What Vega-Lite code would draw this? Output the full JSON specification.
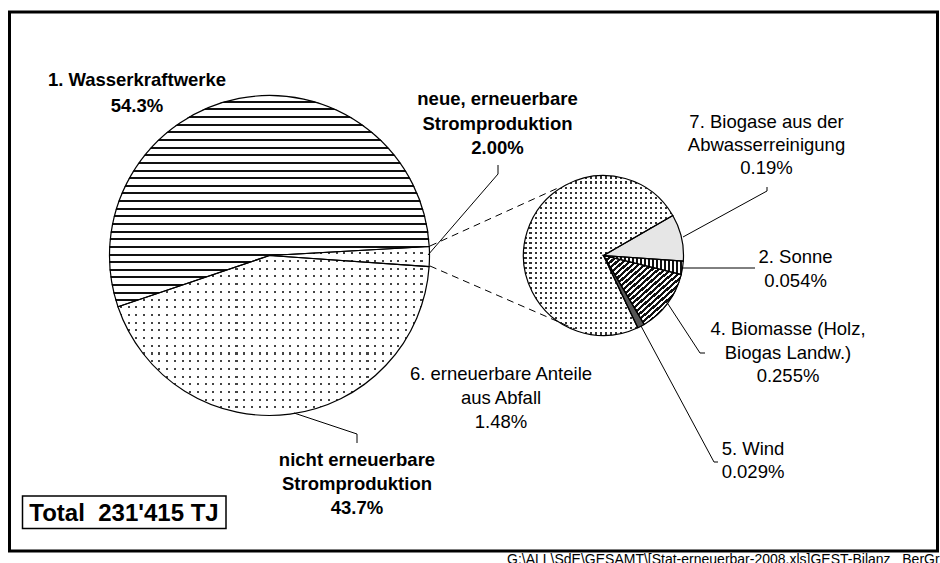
{
"$schema":"https://vega.github.io/schema/vega-lite/v6.json",
"width":940,"height":563,"autosize":{"type":"none"},"padding":0,"background":"#ffffff",
"config":{"view":{"stroke":null},"text":{"font":"Liberation Sans"}},
"datasets":{
"gross":[
{"ord":1,"name":"1. Wasserkraftwerke","value":54.3,"label":"1. Wasserkraftwerke\n54.3%"},
{"ord":2,"name":"neue, erneuerbare Stromproduktion","value":2.0,"label":"neue, erneuerbare\nStromproduktion\n2.00%"},
{"ord":3,"name":"nicht erneuerbare Stromproduktion","value":43.7,"label":"nicht erneuerbare\nStromproduktion\n43.7%"}],
"klein":[
{"ord":1,"name":"7. Biogase aus der Abwasserreinigung","value":0.19,"label":"7. Biogase aus der\nAbwasserreinigung\n0.19%"},
{"ord":2,"name":"2. Sonne","value":0.054,"label":"2. Sonne\n0.054%"},
{"ord":3,"name":"4. Biomasse (Holz, Biogas Landw.)","value":0.255,"label":"4. Biomasse (Holz,\nBiogas Landw.)\n0.255%"},
{"ord":4,"name":"5. Wind","value":0.029,"label":"5. Wind\n0.029%"},
{"ord":5,"name":"6. erneuerbare Anteile aus Abfall","value":1.48,"label":"6. erneuerbare Anteile\naus Abfall\n1.48%"}],
"gesamt":[{"label":"Total\u00a0 231'415 TJ","value":231415}],
"quelle":[{"label":"G:\\ALL\\SdE\\GESAMT\\[Stat-erneuerbar-2008.xls]GEST-Bilanz_ BerGr"}]
},
"data":{"name":"gesamt"},
"resolve":{"scale":{"theta":"independent"}},
"layer":[
{"mark":{"type":"rect","fill":"transparent","stroke":"#000","strokeWidth":3},
 "encoding":{"x":{"datum":9.5,"type":"quantitative","scale":{"domain":[0,940]},"axis":null},"x2":{"datum":937.5},"y":{"datum":12,"type":"quantitative","scale":{"domain":[563,0]},"axis":null},"y2":{"datum":551}}},

{"data":{"name":"gross"},"transform":[{"aggregate":[{"op":"sum","field":"value","as":"summe"}]}],
 "mark":{"type":"arc","outerRadius":160,"theta":0,"theta2":6.2832,"fill":"#444","stroke":null},
 "encoding":{"x":{"datum":269.5,"type":"quantitative","scale":{"domain":[0,940]},"axis":null},"y":{"datum":255.5,"type":"quantitative","scale":{"domain":[563,0]},"axis":null}}},

{"data":{"name":"gross"},"transform":[{"aggregate":[{"op":"sum","field":"value","as":"summe"}]}],
 "mark":{"type":"arc","outerRadius":160.5,"theta":0,"theta2":6.2832,"stroke":null,"fill":{"gradient":"linear","x1":0,"y1":0,"x2":0,"y2":1,"stops":[
{"offset":0,"color":"#fff"},
{"offset":0.49,"color":"#fff"},{"offset":0.49,"color":"transparent"},{"offset":0.4965,"color":"transparent"},{"offset":0.4965,"color":"#fff"},
{"offset":0.514,"color":"#fff"},{"offset":0.514,"color":"transparent"},{"offset":0.5205,"color":"transparent"},{"offset":0.5205,"color":"#fff"},
{"offset":0.538,"color":"#fff"},{"offset":0.538,"color":"transparent"},{"offset":0.5445,"color":"transparent"},{"offset":0.5445,"color":"#fff"},
{"offset":0.562,"color":"#fff"},{"offset":0.562,"color":"transparent"},{"offset":0.5685,"color":"transparent"},{"offset":0.5685,"color":"#fff"},
{"offset":0.586,"color":"#fff"},{"offset":0.586,"color":"transparent"},{"offset":0.5925,"color":"transparent"},{"offset":0.5925,"color":"#fff"},
{"offset":0.61,"color":"#fff"},{"offset":0.61,"color":"transparent"},{"offset":0.6165,"color":"transparent"},{"offset":0.6165,"color":"#fff"},
{"offset":0.634,"color":"#fff"},{"offset":0.634,"color":"transparent"},{"offset":0.6405,"color":"transparent"},{"offset":0.6405,"color":"#fff"},
{"offset":0.658,"color":"#fff"},{"offset":0.658,"color":"transparent"},{"offset":0.6645,"color":"transparent"},{"offset":0.6645,"color":"#fff"},
{"offset":0.682,"color":"#fff"},{"offset":0.682,"color":"transparent"},{"offset":0.6885,"color":"transparent"},{"offset":0.6885,"color":"#fff"},
{"offset":0.706,"color":"#fff"},{"offset":0.706,"color":"transparent"},{"offset":0.7125,"color":"transparent"},{"offset":0.7125,"color":"#fff"},
{"offset":0.73,"color":"#fff"},{"offset":0.73,"color":"transparent"},{"offset":0.7365,"color":"transparent"},{"offset":0.7365,"color":"#fff"},
{"offset":0.754,"color":"#fff"},{"offset":0.754,"color":"transparent"},{"offset":0.7605,"color":"transparent"},{"offset":0.7605,"color":"#fff"},
{"offset":0.778,"color":"#fff"},{"offset":0.778,"color":"transparent"},{"offset":0.7845,"color":"transparent"},{"offset":0.7845,"color":"#fff"},
{"offset":0.802,"color":"#fff"},{"offset":0.802,"color":"transparent"},{"offset":0.8085,"color":"transparent"},{"offset":0.8085,"color":"#fff"},
{"offset":0.826,"color":"#fff"},{"offset":0.826,"color":"transparent"},{"offset":0.8325,"color":"transparent"},{"offset":0.8325,"color":"#fff"},
{"offset":0.85,"color":"#fff"},{"offset":0.85,"color":"transparent"},{"offset":0.8565,"color":"transparent"},{"offset":0.8565,"color":"#fff"},
{"offset":0.874,"color":"#fff"},{"offset":0.874,"color":"transparent"},{"offset":0.8805,"color":"transparent"},{"offset":0.8805,"color":"#fff"},
{"offset":0.898,"color":"#fff"},{"offset":0.898,"color":"transparent"},{"offset":0.9045,"color":"transparent"},{"offset":0.9045,"color":"#fff"},
{"offset":0.922,"color":"#fff"},{"offset":0.922,"color":"transparent"},{"offset":0.9285,"color":"transparent"},{"offset":0.9285,"color":"#fff"},
{"offset":0.946,"color":"#fff"},{"offset":0.946,"color":"transparent"},{"offset":0.9525,"color":"transparent"},{"offset":0.9525,"color":"#fff"},
{"offset":0.97,"color":"#fff"},{"offset":0.97,"color":"transparent"},{"offset":0.9765,"color":"transparent"},{"offset":0.9765,"color":"#fff"},
{"offset":1,"color":"#fff"}]}},
 "encoding":{"x":{"datum":269.5,"type":"quantitative","scale":{"domain":[0,940]},"axis":null},"y":{"datum":255.5,"type":"quantitative","scale":{"domain":[563,0]},"axis":null}}},

{"data":{"name":"gross"},"transform":[{"aggregate":[{"op":"sum","field":"value","as":"summe"}]}],
 "mark":{"type":"arc","outerRadius":160.5,"theta":0,"theta2":6.2832,"stroke":null,"fill":{"gradient":"linear","x1":0,"y1":0,"x2":1,"y2":0,"stops":[
{"offset":0,"color":"#fff"},
{"offset":0.01,"color":"#fff"},{"offset":0.01,"color":"transparent"},{"offset":0.0165,"color":"transparent"},{"offset":0.0165,"color":"#fff"},
{"offset":0.034,"color":"#fff"},{"offset":0.034,"color":"transparent"},{"offset":0.0405,"color":"transparent"},{"offset":0.0405,"color":"#fff"},
{"offset":0.058,"color":"#fff"},{"offset":0.058,"color":"transparent"},{"offset":0.0645,"color":"transparent"},{"offset":0.0645,"color":"#fff"},
{"offset":0.082,"color":"#fff"},{"offset":0.082,"color":"transparent"},{"offset":0.0885,"color":"transparent"},{"offset":0.0885,"color":"#fff"},
{"offset":0.106,"color":"#fff"},{"offset":0.106,"color":"transparent"},{"offset":0.1125,"color":"transparent"},{"offset":0.1125,"color":"#fff"},
{"offset":0.13,"color":"#fff"},{"offset":0.13,"color":"transparent"},{"offset":0.1365,"color":"transparent"},{"offset":0.1365,"color":"#fff"},
{"offset":0.154,"color":"#fff"},{"offset":0.154,"color":"transparent"},{"offset":0.1605,"color":"transparent"},{"offset":0.1605,"color":"#fff"},
{"offset":0.178,"color":"#fff"},{"offset":0.178,"color":"transparent"},{"offset":0.1845,"color":"transparent"},{"offset":0.1845,"color":"#fff"},
{"offset":0.202,"color":"#fff"},{"offset":0.202,"color":"transparent"},{"offset":0.2085,"color":"transparent"},{"offset":0.2085,"color":"#fff"},
{"offset":0.226,"color":"#fff"},{"offset":0.226,"color":"transparent"},{"offset":0.2325,"color":"transparent"},{"offset":0.2325,"color":"#fff"},
{"offset":0.25,"color":"#fff"},{"offset":0.25,"color":"transparent"},{"offset":0.2565,"color":"transparent"},{"offset":0.2565,"color":"#fff"},
{"offset":0.274,"color":"#fff"},{"offset":0.274,"color":"transparent"},{"offset":0.2805,"color":"transparent"},{"offset":0.2805,"color":"#fff"},
{"offset":0.298,"color":"#fff"},{"offset":0.298,"color":"transparent"},{"offset":0.3045,"color":"transparent"},{"offset":0.3045,"color":"#fff"},
{"offset":0.322,"color":"#fff"},{"offset":0.322,"color":"transparent"},{"offset":0.3285,"color":"transparent"},{"offset":0.3285,"color":"#fff"},
{"offset":0.346,"color":"#fff"},{"offset":0.346,"color":"transparent"},{"offset":0.3525,"color":"transparent"},{"offset":0.3525,"color":"#fff"},
{"offset":0.37,"color":"#fff"},{"offset":0.37,"color":"transparent"},{"offset":0.3765,"color":"transparent"},{"offset":0.3765,"color":"#fff"},
{"offset":0.394,"color":"#fff"},{"offset":0.394,"color":"transparent"},{"offset":0.4005,"color":"transparent"},{"offset":0.4005,"color":"#fff"},
{"offset":0.418,"color":"#fff"},{"offset":0.418,"color":"transparent"},{"offset":0.4245,"color":"transparent"},{"offset":0.4245,"color":"#fff"},
{"offset":0.442,"color":"#fff"},{"offset":0.442,"color":"transparent"},{"offset":0.4485,"color":"transparent"},{"offset":0.4485,"color":"#fff"},
{"offset":0.466,"color":"#fff"},{"offset":0.466,"color":"transparent"},{"offset":0.4725,"color":"transparent"},{"offset":0.4725,"color":"#fff"},
{"offset":0.49,"color":"#fff"},{"offset":0.49,"color":"transparent"},{"offset":0.4965,"color":"transparent"},{"offset":0.4965,"color":"#fff"},
{"offset":0.514,"color":"#fff"},{"offset":0.514,"color":"transparent"},{"offset":0.5205,"color":"transparent"},{"offset":0.5205,"color":"#fff"},
{"offset":0.538,"color":"#fff"},{"offset":0.538,"color":"transparent"},{"offset":0.5445,"color":"transparent"},{"offset":0.5445,"color":"#fff"},
{"offset":0.562,"color":"#fff"},{"offset":0.562,"color":"transparent"},{"offset":0.5685,"color":"transparent"},{"offset":0.5685,"color":"#fff"},
{"offset":0.586,"color":"#fff"},{"offset":0.586,"color":"transparent"},{"offset":0.5925,"color":"transparent"},{"offset":0.5925,"color":"#fff"},
{"offset":0.61,"color":"#fff"},{"offset":0.61,"color":"transparent"},{"offset":0.6165,"color":"transparent"},{"offset":0.6165,"color":"#fff"},
{"offset":0.634,"color":"#fff"},{"offset":0.634,"color":"transparent"},{"offset":0.6405,"color":"transparent"},{"offset":0.6405,"color":"#fff"},
{"offset":0.658,"color":"#fff"},{"offset":0.658,"color":"transparent"},{"offset":0.6645,"color":"transparent"},{"offset":0.6645,"color":"#fff"},
{"offset":0.682,"color":"#fff"},{"offset":0.682,"color":"transparent"},{"offset":0.6885,"color":"transparent"},{"offset":0.6885,"color":"#fff"},
{"offset":0.706,"color":"#fff"},{"offset":0.706,"color":"transparent"},{"offset":0.7125,"color":"transparent"},{"offset":0.7125,"color":"#fff"},
{"offset":0.73,"color":"#fff"},{"offset":0.73,"color":"transparent"},{"offset":0.7365,"color":"transparent"},{"offset":0.7365,"color":"#fff"},
{"offset":0.754,"color":"#fff"},{"offset":0.754,"color":"transparent"},{"offset":0.7605,"color":"transparent"},{"offset":0.7605,"color":"#fff"},
{"offset":0.778,"color":"#fff"},{"offset":0.778,"color":"transparent"},{"offset":0.7845,"color":"transparent"},{"offset":0.7845,"color":"#fff"},
{"offset":0.802,"color":"#fff"},{"offset":0.802,"color":"transparent"},{"offset":0.8085,"color":"transparent"},{"offset":0.8085,"color":"#fff"},
{"offset":0.826,"color":"#fff"},{"offset":0.826,"color":"transparent"},{"offset":0.8325,"color":"transparent"},{"offset":0.8325,"color":"#fff"},
{"offset":0.85,"color":"#fff"},{"offset":0.85,"color":"transparent"},{"offset":0.8565,"color":"transparent"},{"offset":0.8565,"color":"#fff"},
{"offset":0.874,"color":"#fff"},{"offset":0.874,"color":"transparent"},{"offset":0.8805,"color":"transparent"},{"offset":0.8805,"color":"#fff"},
{"offset":0.898,"color":"#fff"},{"offset":0.898,"color":"transparent"},{"offset":0.9045,"color":"transparent"},{"offset":0.9045,"color":"#fff"},
{"offset":0.922,"color":"#fff"},{"offset":0.922,"color":"transparent"},{"offset":0.9285,"color":"transparent"},{"offset":0.9285,"color":"#fff"},
{"offset":0.946,"color":"#fff"},{"offset":0.946,"color":"transparent"},{"offset":0.9525,"color":"transparent"},{"offset":0.9525,"color":"#fff"},
{"offset":0.97,"color":"#fff"},{"offset":0.97,"color":"transparent"},{"offset":0.9765,"color":"transparent"},{"offset":0.9765,"color":"#fff"},
{"offset":1,"color":"#fff"}]}},
 "encoding":{"x":{"datum":269.5,"type":"quantitative","scale":{"domain":[0,940]},"axis":null},"y":{"datum":255.5,"type":"quantitative","scale":{"domain":[563,0]},"axis":null}}},

{"data":{"name":"gross"},"transform":[{"stack":"value","groupby":[],"sort":[{"field":"ord","order":"ascending"}],"as":["v0","v1"]},{"filter":"datum.ord == 1"}],
 "mark":{"type":"arc","outerRadius":160.5,"stroke":null,"fill":{"gradient":"linear","x1":0,"y1":0,"x2":0,"y2":1,"stops":[
{"offset":0,"color":"#fff"},
{"offset":0.027,"color":"#fff"},{"offset":0.027,"color":"#111"},{"offset":0.0365,"color":"#111"},{"offset":0.0365,"color":"#fff"},
{"offset":0.0631,"color":"#fff"},{"offset":0.0631,"color":"#111"},{"offset":0.0726,"color":"#111"},{"offset":0.0726,"color":"#fff"},
{"offset":0.0991,"color":"#fff"},{"offset":0.0991,"color":"#111"},{"offset":0.1086,"color":"#111"},{"offset":0.1086,"color":"#fff"},
{"offset":0.1352,"color":"#fff"},{"offset":0.1352,"color":"#111"},{"offset":0.1447,"color":"#111"},{"offset":0.1447,"color":"#fff"},
{"offset":0.1712,"color":"#fff"},{"offset":0.1712,"color":"#111"},{"offset":0.1807,"color":"#111"},{"offset":0.1807,"color":"#fff"},
{"offset":0.2073,"color":"#fff"},{"offset":0.2073,"color":"#111"},{"offset":0.2168,"color":"#111"},{"offset":0.2168,"color":"#fff"},
{"offset":0.2433,"color":"#fff"},{"offset":0.2433,"color":"#111"},{"offset":0.2528,"color":"#111"},{"offset":0.2528,"color":"#fff"},
{"offset":0.2794,"color":"#fff"},{"offset":0.2794,"color":"#111"},{"offset":0.2889,"color":"#111"},{"offset":0.2889,"color":"#fff"},
{"offset":0.3154,"color":"#fff"},{"offset":0.3154,"color":"#111"},{"offset":0.3249,"color":"#111"},{"offset":0.3249,"color":"#fff"},
{"offset":0.3515,"color":"#fff"},{"offset":0.3515,"color":"#111"},{"offset":0.361,"color":"#111"},{"offset":0.361,"color":"#fff"},
{"offset":0.3875,"color":"#fff"},{"offset":0.3875,"color":"#111"},{"offset":0.397,"color":"#111"},{"offset":0.397,"color":"#fff"},
{"offset":0.4236,"color":"#fff"},{"offset":0.4236,"color":"#111"},{"offset":0.4331,"color":"#111"},{"offset":0.4331,"color":"#fff"},
{"offset":0.4596,"color":"#fff"},{"offset":0.4596,"color":"#111"},{"offset":0.4691,"color":"#111"},{"offset":0.4691,"color":"#fff"},
{"offset":0.4957,"color":"#fff"},{"offset":0.4957,"color":"#111"},{"offset":0.5052,"color":"#111"},{"offset":0.5052,"color":"#fff"},
{"offset":0.5317,"color":"#fff"},{"offset":0.5317,"color":"#111"},{"offset":0.5412,"color":"#111"},{"offset":0.5412,"color":"#fff"},
{"offset":0.5678,"color":"#fff"},{"offset":0.5678,"color":"#111"},{"offset":0.5773,"color":"#111"},{"offset":0.5773,"color":"#fff"},
{"offset":0.6038,"color":"#fff"},{"offset":0.6038,"color":"#111"},{"offset":0.6133,"color":"#111"},{"offset":0.6133,"color":"#fff"},
{"offset":0.6399,"color":"#fff"},{"offset":0.6399,"color":"#111"},{"offset":0.6494,"color":"#111"},{"offset":0.6494,"color":"#fff"},
{"offset":0.6759,"color":"#fff"},{"offset":0.6759,"color":"#111"},{"offset":0.6854,"color":"#111"},{"offset":0.6854,"color":"#fff"},
{"offset":0.712,"color":"#fff"},{"offset":0.712,"color":"#111"},{"offset":0.7215,"color":"#111"},{"offset":0.7215,"color":"#fff"},
{"offset":0.7481,"color":"#fff"},{"offset":0.7481,"color":"#111"},{"offset":0.7576,"color":"#111"},{"offset":0.7576,"color":"#fff"},
{"offset":0.7841,"color":"#fff"},{"offset":0.7841,"color":"#111"},{"offset":0.7936,"color":"#111"},{"offset":0.7936,"color":"#fff"},
{"offset":0.8202,"color":"#fff"},{"offset":0.8202,"color":"#111"},{"offset":0.8297,"color":"#111"},{"offset":0.8297,"color":"#fff"},
{"offset":0.8562,"color":"#fff"},{"offset":0.8562,"color":"#111"},{"offset":0.8657,"color":"#111"},{"offset":0.8657,"color":"#fff"},
{"offset":0.8923,"color":"#fff"},{"offset":0.8923,"color":"#111"},{"offset":0.9018,"color":"#111"},{"offset":0.9018,"color":"#fff"},
{"offset":0.9283,"color":"#fff"},{"offset":0.9283,"color":"#111"},{"offset":0.9378,"color":"#111"},{"offset":0.9378,"color":"#fff"},
{"offset":0.9644,"color":"#fff"},{"offset":0.9644,"color":"#111"},{"offset":0.9739,"color":"#111"},{"offset":0.9739,"color":"#fff"},
{"offset":1,"color":"#fff"}]}},
 "encoding":{"x":{"datum":269.5,"type":"quantitative","scale":{"domain":[0,940]},"axis":null},"y":{"datum":255.5,"type":"quantitative","scale":{"domain":[563,0]},"axis":null},
  "theta":{"field":"v0","type":"quantitative","scale":{"domain":[0,100],"range":[4.386,10.6692]}},"theta2":{"field":"v1"}}},

{"data":{"name":"gross"},"transform":[{"stack":"value","groupby":[],"sort":[{"field":"ord","order":"ascending"}],"as":["v0","v1"]}],
 "mark":{"type":"arc","outerRadius":160,"fill":"transparent","stroke":"#000","strokeWidth":1.2},
 "encoding":{"x":{"datum":269.5,"type":"quantitative","scale":{"domain":[0,940]},"axis":null},"y":{"datum":255.5,"type":"quantitative","scale":{"domain":[563,0]},"axis":null},
  "theta":{"field":"v0","type":"quantitative","scale":{"domain":[0,100],"range":[4.386,10.6692]}},"theta2":{"field":"v1"}}},

{"data":{"name":"klein"},"transform":[{"aggregate":[{"op":"sum","field":"value","as":"summe"}]}],
 "mark":{"type":"arc","outerRadius":80,"theta":0,"theta2":6.2832,"fill":"#333","stroke":null},
 "encoding":{"x":{"datum":603.5,"type":"quantitative","scale":{"domain":[0,940]},"axis":null},"y":{"datum":255.5,"type":"quantitative","scale":{"domain":[563,0]},"axis":null}}},

{"data":{"name":"klein"},"transform":[{"aggregate":[{"op":"sum","field":"value","as":"summe"}]}],
 "mark":{"type":"arc","outerRadius":80.5,"theta":0,"theta2":6.2832,"stroke":null,"fill":{"gradient":"linear","x1":0,"y1":0,"x2":0,"y2":1,"stops":[
{"offset":0,"color":"#fff"},
{"offset":0.009,"color":"#fff"},{"offset":0.009,"color":"transparent"},{"offset":0.022,"color":"transparent"},{"offset":0.022,"color":"#fff"},
{"offset":0.04025,"color":"#fff"},{"offset":0.04025,"color":"transparent"},{"offset":0.05325,"color":"transparent"},{"offset":0.05325,"color":"#fff"},
{"offset":0.0715,"color":"#fff"},{"offset":0.0715,"color":"transparent"},{"offset":0.0845,"color":"transparent"},{"offset":0.0845,"color":"#fff"},
{"offset":0.10275,"color":"#fff"},{"offset":0.10275,"color":"transparent"},{"offset":0.11575,"color":"transparent"},{"offset":0.11575,"color":"#fff"},
{"offset":0.134,"color":"#fff"},{"offset":0.134,"color":"transparent"},{"offset":0.147,"color":"transparent"},{"offset":0.147,"color":"#fff"},
{"offset":0.16525,"color":"#fff"},{"offset":0.16525,"color":"transparent"},{"offset":0.17825,"color":"transparent"},{"offset":0.17825,"color":"#fff"},
{"offset":0.1965,"color":"#fff"},{"offset":0.1965,"color":"transparent"},{"offset":0.2095,"color":"transparent"},{"offset":0.2095,"color":"#fff"},
{"offset":0.22775,"color":"#fff"},{"offset":0.22775,"color":"transparent"},{"offset":0.24075,"color":"transparent"},{"offset":0.24075,"color":"#fff"},
{"offset":0.259,"color":"#fff"},{"offset":0.259,"color":"transparent"},{"offset":0.272,"color":"transparent"},{"offset":0.272,"color":"#fff"},
{"offset":0.29025,"color":"#fff"},{"offset":0.29025,"color":"transparent"},{"offset":0.30325,"color":"transparent"},{"offset":0.30325,"color":"#fff"},
{"offset":0.3215,"color":"#fff"},{"offset":0.3215,"color":"transparent"},{"offset":0.3345,"color":"transparent"},{"offset":0.3345,"color":"#fff"},
{"offset":0.35275,"color":"#fff"},{"offset":0.35275,"color":"transparent"},{"offset":0.36575,"color":"transparent"},{"offset":0.36575,"color":"#fff"},
{"offset":0.384,"color":"#fff"},{"offset":0.384,"color":"transparent"},{"offset":0.397,"color":"transparent"},{"offset":0.397,"color":"#fff"},
{"offset":0.41525,"color":"#fff"},{"offset":0.41525,"color":"transparent"},{"offset":0.42825,"color":"transparent"},{"offset":0.42825,"color":"#fff"},
{"offset":0.4465,"color":"#fff"},{"offset":0.4465,"color":"transparent"},{"offset":0.4595,"color":"transparent"},{"offset":0.4595,"color":"#fff"},
{"offset":0.47775,"color":"#fff"},{"offset":0.47775,"color":"transparent"},{"offset":0.49075,"color":"transparent"},{"offset":0.49075,"color":"#fff"},
{"offset":0.509,"color":"#fff"},{"offset":0.509,"color":"transparent"},{"offset":0.522,"color":"transparent"},{"offset":0.522,"color":"#fff"},
{"offset":0.54025,"color":"#fff"},{"offset":0.54025,"color":"transparent"},{"offset":0.55325,"color":"transparent"},{"offset":0.55325,"color":"#fff"},
{"offset":0.5715,"color":"#fff"},{"offset":0.5715,"color":"transparent"},{"offset":0.5845,"color":"transparent"},{"offset":0.5845,"color":"#fff"},
{"offset":0.60275,"color":"#fff"},{"offset":0.60275,"color":"transparent"},{"offset":0.61575,"color":"transparent"},{"offset":0.61575,"color":"#fff"},
{"offset":0.634,"color":"#fff"},{"offset":0.634,"color":"transparent"},{"offset":0.647,"color":"transparent"},{"offset":0.647,"color":"#fff"},
{"offset":0.66525,"color":"#fff"},{"offset":0.66525,"color":"transparent"},{"offset":0.67825,"color":"transparent"},{"offset":0.67825,"color":"#fff"},
{"offset":0.6965,"color":"#fff"},{"offset":0.6965,"color":"transparent"},{"offset":0.7095,"color":"transparent"},{"offset":0.7095,"color":"#fff"},
{"offset":0.72775,"color":"#fff"},{"offset":0.72775,"color":"transparent"},{"offset":0.74075,"color":"transparent"},{"offset":0.74075,"color":"#fff"},
{"offset":0.759,"color":"#fff"},{"offset":0.759,"color":"transparent"},{"offset":0.772,"color":"transparent"},{"offset":0.772,"color":"#fff"},
{"offset":0.79025,"color":"#fff"},{"offset":0.79025,"color":"transparent"},{"offset":0.80325,"color":"transparent"},{"offset":0.80325,"color":"#fff"},
{"offset":0.8215,"color":"#fff"},{"offset":0.8215,"color":"transparent"},{"offset":0.8345,"color":"transparent"},{"offset":0.8345,"color":"#fff"},
{"offset":0.85275,"color":"#fff"},{"offset":0.85275,"color":"transparent"},{"offset":0.86575,"color":"transparent"},{"offset":0.86575,"color":"#fff"},
{"offset":0.884,"color":"#fff"},{"offset":0.884,"color":"transparent"},{"offset":0.897,"color":"transparent"},{"offset":0.897,"color":"#fff"},
{"offset":0.91525,"color":"#fff"},{"offset":0.91525,"color":"transparent"},{"offset":0.92825,"color":"transparent"},{"offset":0.92825,"color":"#fff"},
{"offset":0.9465,"color":"#fff"},{"offset":0.9465,"color":"transparent"},{"offset":0.9595,"color":"transparent"},{"offset":0.9595,"color":"#fff"},
{"offset":0.97775,"color":"#fff"},{"offset":0.97775,"color":"transparent"},{"offset":0.99075,"color":"transparent"},{"offset":0.99075,"color":"#fff"},
{"offset":1,"color":"#fff"}]}},
 "encoding":{"x":{"datum":603.5,"type":"quantitative","scale":{"domain":[0,940]},"axis":null},"y":{"datum":255.5,"type":"quantitative","scale":{"domain":[563,0]},"axis":null}}},

{"data":{"name":"klein"},"transform":[{"aggregate":[{"op":"sum","field":"value","as":"summe"}]}],
 "mark":{"type":"arc","outerRadius":80.5,"theta":0,"theta2":6.2832,"stroke":null,"fill":{"gradient":"linear","x1":0,"y1":0,"x2":1,"y2":0,"stops":[
{"offset":0,"color":"#fff"},
{"offset":0.009,"color":"#fff"},{"offset":0.009,"color":"transparent"},{"offset":0.022,"color":"transparent"},{"offset":0.022,"color":"#fff"},
{"offset":0.04025,"color":"#fff"},{"offset":0.04025,"color":"transparent"},{"offset":0.05325,"color":"transparent"},{"offset":0.05325,"color":"#fff"},
{"offset":0.0715,"color":"#fff"},{"offset":0.0715,"color":"transparent"},{"offset":0.0845,"color":"transparent"},{"offset":0.0845,"color":"#fff"},
{"offset":0.10275,"color":"#fff"},{"offset":0.10275,"color":"transparent"},{"offset":0.11575,"color":"transparent"},{"offset":0.11575,"color":"#fff"},
{"offset":0.134,"color":"#fff"},{"offset":0.134,"color":"transparent"},{"offset":0.147,"color":"transparent"},{"offset":0.147,"color":"#fff"},
{"offset":0.16525,"color":"#fff"},{"offset":0.16525,"color":"transparent"},{"offset":0.17825,"color":"transparent"},{"offset":0.17825,"color":"#fff"},
{"offset":0.1965,"color":"#fff"},{"offset":0.1965,"color":"transparent"},{"offset":0.2095,"color":"transparent"},{"offset":0.2095,"color":"#fff"},
{"offset":0.22775,"color":"#fff"},{"offset":0.22775,"color":"transparent"},{"offset":0.24075,"color":"transparent"},{"offset":0.24075,"color":"#fff"},
{"offset":0.259,"color":"#fff"},{"offset":0.259,"color":"transparent"},{"offset":0.272,"color":"transparent"},{"offset":0.272,"color":"#fff"},
{"offset":0.29025,"color":"#fff"},{"offset":0.29025,"color":"transparent"},{"offset":0.30325,"color":"transparent"},{"offset":0.30325,"color":"#fff"},
{"offset":0.3215,"color":"#fff"},{"offset":0.3215,"color":"transparent"},{"offset":0.3345,"color":"transparent"},{"offset":0.3345,"color":"#fff"},
{"offset":0.35275,"color":"#fff"},{"offset":0.35275,"color":"transparent"},{"offset":0.36575,"color":"transparent"},{"offset":0.36575,"color":"#fff"},
{"offset":0.384,"color":"#fff"},{"offset":0.384,"color":"transparent"},{"offset":0.397,"color":"transparent"},{"offset":0.397,"color":"#fff"},
{"offset":0.41525,"color":"#fff"},{"offset":0.41525,"color":"transparent"},{"offset":0.42825,"color":"transparent"},{"offset":0.42825,"color":"#fff"},
{"offset":0.4465,"color":"#fff"},{"offset":0.4465,"color":"transparent"},{"offset":0.4595,"color":"transparent"},{"offset":0.4595,"color":"#fff"},
{"offset":0.47775,"color":"#fff"},{"offset":0.47775,"color":"transparent"},{"offset":0.49075,"color":"transparent"},{"offset":0.49075,"color":"#fff"},
{"offset":0.509,"color":"#fff"},{"offset":0.509,"color":"transparent"},{"offset":0.522,"color":"transparent"},{"offset":0.522,"color":"#fff"},
{"offset":0.54025,"color":"#fff"},{"offset":0.54025,"color":"transparent"},{"offset":0.55325,"color":"transparent"},{"offset":0.55325,"color":"#fff"},
{"offset":0.5715,"color":"#fff"},{"offset":0.5715,"color":"transparent"},{"offset":0.5845,"color":"transparent"},{"offset":0.5845,"color":"#fff"},
{"offset":0.60275,"color":"#fff"},{"offset":0.60275,"color":"transparent"},{"offset":0.61575,"color":"transparent"},{"offset":0.61575,"color":"#fff"},
{"offset":0.634,"color":"#fff"},{"offset":0.634,"color":"transparent"},{"offset":0.647,"color":"transparent"},{"offset":0.647,"color":"#fff"},
{"offset":0.66525,"color":"#fff"},{"offset":0.66525,"color":"transparent"},{"offset":0.67825,"color":"transparent"},{"offset":0.67825,"color":"#fff"},
{"offset":0.6965,"color":"#fff"},{"offset":0.6965,"color":"transparent"},{"offset":0.7095,"color":"transparent"},{"offset":0.7095,"color":"#fff"},
{"offset":0.72775,"color":"#fff"},{"offset":0.72775,"color":"transparent"},{"offset":0.74075,"color":"transparent"},{"offset":0.74075,"color":"#fff"},
{"offset":0.759,"color":"#fff"},{"offset":0.759,"color":"transparent"},{"offset":0.772,"color":"transparent"},{"offset":0.772,"color":"#fff"},
{"offset":0.79025,"color":"#fff"},{"offset":0.79025,"color":"transparent"},{"offset":0.80325,"color":"transparent"},{"offset":0.80325,"color":"#fff"},
{"offset":0.8215,"color":"#fff"},{"offset":0.8215,"color":"transparent"},{"offset":0.8345,"color":"transparent"},{"offset":0.8345,"color":"#fff"},
{"offset":0.85275,"color":"#fff"},{"offset":0.85275,"color":"transparent"},{"offset":0.86575,"color":"transparent"},{"offset":0.86575,"color":"#fff"},
{"offset":0.884,"color":"#fff"},{"offset":0.884,"color":"transparent"},{"offset":0.897,"color":"transparent"},{"offset":0.897,"color":"#fff"},
{"offset":0.91525,"color":"#fff"},{"offset":0.91525,"color":"transparent"},{"offset":0.92825,"color":"transparent"},{"offset":0.92825,"color":"#fff"},
{"offset":0.9465,"color":"#fff"},{"offset":0.9465,"color":"transparent"},{"offset":0.9595,"color":"transparent"},{"offset":0.9595,"color":"#fff"},
{"offset":0.97775,"color":"#fff"},{"offset":0.97775,"color":"transparent"},{"offset":0.99075,"color":"transparent"},{"offset":0.99075,"color":"#fff"},
{"offset":1,"color":"#fff"}]}},
 "encoding":{"x":{"datum":603.5,"type":"quantitative","scale":{"domain":[0,940]},"axis":null},"y":{"datum":255.5,"type":"quantitative","scale":{"domain":[563,0]},"axis":null}}},

{"data":{"name":"klein"},"transform":[{"stack":"value","groupby":[],"sort":[{"field":"ord","order":"ascending"}],"as":["v0","v1"]},{"filter":"datum.ord == 1"}],
 "mark":{"type":"arc","outerRadius":80.5,"stroke":null,"fill":"#e6e6e6"},
 "encoding":{"x":{"datum":603.5,"type":"quantitative","scale":{"domain":[0,940]},"axis":null},"y":{"datum":255.5,"type":"quantitative","scale":{"domain":[563,0]},"axis":null},
  "theta":{"field":"v0","type":"quantitative","scale":{"domain":[0,2.008],"range":[1.0472,7.3304]}},"theta2":{"field":"v1"}}},

{"data":{"name":"klein"},"transform":[{"stack":"value","groupby":[],"sort":[{"field":"ord","order":"ascending"}],"as":["v0","v1"]},{"filter":"datum.ord == 2"}],
 "mark":{"type":"arc","outerRadius":80.5,"stroke":null,"fill":{"gradient":"linear","x1":0,"y1":0,"x2":1,"y2":0,"stops":[
{"offset":0,"color":"#111"},{"offset":0.025,"color":"#111"},{"offset":0.025,"color":"#fff"},{"offset":0.05,"color":"#fff"},
{"offset":0.05,"color":"#111"},{"offset":0.075,"color":"#111"},{"offset":0.075,"color":"#fff"},{"offset":0.1,"color":"#fff"},
{"offset":0.1,"color":"#111"},{"offset":0.125,"color":"#111"},{"offset":0.125,"color":"#fff"},{"offset":0.15,"color":"#fff"},
{"offset":0.15,"color":"#111"},{"offset":0.175,"color":"#111"},{"offset":0.175,"color":"#fff"},{"offset":0.2,"color":"#fff"},
{"offset":0.2,"color":"#111"},{"offset":0.225,"color":"#111"},{"offset":0.225,"color":"#fff"},{"offset":0.25,"color":"#fff"},
{"offset":0.25,"color":"#111"},{"offset":0.275,"color":"#111"},{"offset":0.275,"color":"#fff"},{"offset":0.3,"color":"#fff"},
{"offset":0.3,"color":"#111"},{"offset":0.325,"color":"#111"},{"offset":0.325,"color":"#fff"},{"offset":0.35,"color":"#fff"},
{"offset":0.35,"color":"#111"},{"offset":0.375,"color":"#111"},{"offset":0.375,"color":"#fff"},{"offset":0.4,"color":"#fff"},
{"offset":0.4,"color":"#111"},{"offset":0.425,"color":"#111"},{"offset":0.425,"color":"#fff"},{"offset":0.45,"color":"#fff"},
{"offset":0.45,"color":"#111"},{"offset":0.475,"color":"#111"},{"offset":0.475,"color":"#fff"},{"offset":0.5,"color":"#fff"},
{"offset":0.5,"color":"#111"},{"offset":0.525,"color":"#111"},{"offset":0.525,"color":"#fff"},{"offset":0.55,"color":"#fff"},
{"offset":0.55,"color":"#111"},{"offset":0.575,"color":"#111"},{"offset":0.575,"color":"#fff"},{"offset":0.6,"color":"#fff"},
{"offset":0.6,"color":"#111"},{"offset":0.625,"color":"#111"},{"offset":0.625,"color":"#fff"},{"offset":0.65,"color":"#fff"},
{"offset":0.65,"color":"#111"},{"offset":0.675,"color":"#111"},{"offset":0.675,"color":"#fff"},{"offset":0.7,"color":"#fff"},
{"offset":0.7,"color":"#111"},{"offset":0.725,"color":"#111"},{"offset":0.725,"color":"#fff"},{"offset":0.75,"color":"#fff"},
{"offset":0.75,"color":"#111"},{"offset":0.775,"color":"#111"},{"offset":0.775,"color":"#fff"},{"offset":0.8,"color":"#fff"},
{"offset":0.8,"color":"#111"},{"offset":0.825,"color":"#111"},{"offset":0.825,"color":"#fff"},{"offset":0.85,"color":"#fff"},
{"offset":0.85,"color":"#111"},{"offset":0.875,"color":"#111"},{"offset":0.875,"color":"#fff"},{"offset":0.9,"color":"#fff"},
{"offset":0.9,"color":"#111"},{"offset":0.925,"color":"#111"},{"offset":0.925,"color":"#fff"},{"offset":0.95,"color":"#fff"},
{"offset":0.95,"color":"#111"},{"offset":0.975,"color":"#111"},{"offset":0.975,"color":"#fff"},{"offset":1,"color":"#fff"}]}},
 "encoding":{"x":{"datum":603.5,"type":"quantitative","scale":{"domain":[0,940]},"axis":null},"y":{"datum":255.5,"type":"quantitative","scale":{"domain":[563,0]},"axis":null},
  "theta":{"field":"v0","type":"quantitative","scale":{"domain":[0,2.008],"range":[1.0472,7.3304]}},"theta2":{"field":"v1"}}},

{"data":{"name":"klein"},"transform":[{"stack":"value","groupby":[],"sort":[{"field":"ord","order":"ascending"}],"as":["v0","v1"]},{"filter":"datum.ord == 3"}],
 "mark":{"type":"arc","outerRadius":80.5,"stroke":null,"fill":{"gradient":"linear","x1":0,"y1":0,"x2":1,"y2":1,"stops":[
{"offset":0,"color":"#111"},{"offset":0.022,"color":"#111"},{"offset":0.022,"color":"#fff"},{"offset":0.04,"color":"#fff"},
{"offset":0.04,"color":"#111"},{"offset":0.062,"color":"#111"},{"offset":0.062,"color":"#fff"},{"offset":0.08,"color":"#fff"},
{"offset":0.08,"color":"#111"},{"offset":0.102,"color":"#111"},{"offset":0.102,"color":"#fff"},{"offset":0.12,"color":"#fff"},
{"offset":0.12,"color":"#111"},{"offset":0.142,"color":"#111"},{"offset":0.142,"color":"#fff"},{"offset":0.16,"color":"#fff"},
{"offset":0.16,"color":"#111"},{"offset":0.182,"color":"#111"},{"offset":0.182,"color":"#fff"},{"offset":0.2,"color":"#fff"},
{"offset":0.2,"color":"#111"},{"offset":0.222,"color":"#111"},{"offset":0.222,"color":"#fff"},{"offset":0.24,"color":"#fff"},
{"offset":0.24,"color":"#111"},{"offset":0.262,"color":"#111"},{"offset":0.262,"color":"#fff"},{"offset":0.28,"color":"#fff"},
{"offset":0.28,"color":"#111"},{"offset":0.302,"color":"#111"},{"offset":0.302,"color":"#fff"},{"offset":0.32,"color":"#fff"},
{"offset":0.32,"color":"#111"},{"offset":0.342,"color":"#111"},{"offset":0.342,"color":"#fff"},{"offset":0.36,"color":"#fff"},
{"offset":0.36,"color":"#111"},{"offset":0.382,"color":"#111"},{"offset":0.382,"color":"#fff"},{"offset":0.4,"color":"#fff"},
{"offset":0.4,"color":"#111"},{"offset":0.422,"color":"#111"},{"offset":0.422,"color":"#fff"},{"offset":0.44,"color":"#fff"},
{"offset":0.44,"color":"#111"},{"offset":0.462,"color":"#111"},{"offset":0.462,"color":"#fff"},{"offset":0.48,"color":"#fff"},
{"offset":0.48,"color":"#111"},{"offset":0.502,"color":"#111"},{"offset":0.502,"color":"#fff"},{"offset":0.52,"color":"#fff"},
{"offset":0.52,"color":"#111"},{"offset":0.542,"color":"#111"},{"offset":0.542,"color":"#fff"},{"offset":0.56,"color":"#fff"},
{"offset":0.56,"color":"#111"},{"offset":0.582,"color":"#111"},{"offset":0.582,"color":"#fff"},{"offset":0.6,"color":"#fff"},
{"offset":0.6,"color":"#111"},{"offset":0.622,"color":"#111"},{"offset":0.622,"color":"#fff"},{"offset":0.64,"color":"#fff"},
{"offset":0.64,"color":"#111"},{"offset":0.662,"color":"#111"},{"offset":0.662,"color":"#fff"},{"offset":0.68,"color":"#fff"},
{"offset":0.68,"color":"#111"},{"offset":0.702,"color":"#111"},{"offset":0.702,"color":"#fff"},{"offset":0.72,"color":"#fff"},
{"offset":0.72,"color":"#111"},{"offset":0.742,"color":"#111"},{"offset":0.742,"color":"#fff"},{"offset":0.76,"color":"#fff"},
{"offset":0.76,"color":"#111"},{"offset":0.782,"color":"#111"},{"offset":0.782,"color":"#fff"},{"offset":0.8,"color":"#fff"},
{"offset":0.8,"color":"#111"},{"offset":0.822,"color":"#111"},{"offset":0.822,"color":"#fff"},{"offset":0.84,"color":"#fff"},
{"offset":0.84,"color":"#111"},{"offset":0.862,"color":"#111"},{"offset":0.862,"color":"#fff"},{"offset":0.88,"color":"#fff"},
{"offset":0.88,"color":"#111"},{"offset":0.902,"color":"#111"},{"offset":0.902,"color":"#fff"},{"offset":0.92,"color":"#fff"},
{"offset":0.92,"color":"#111"},{"offset":0.942,"color":"#111"},{"offset":0.942,"color":"#fff"},{"offset":0.96,"color":"#fff"},
{"offset":0.96,"color":"#111"},{"offset":0.982,"color":"#111"},{"offset":0.982,"color":"#fff"},{"offset":1,"color":"#fff"}]}},
 "encoding":{"x":{"datum":603.5,"type":"quantitative","scale":{"domain":[0,940]},"axis":null},"y":{"datum":255.5,"type":"quantitative","scale":{"domain":[563,0]},"axis":null},
  "theta":{"field":"v0","type":"quantitative","scale":{"domain":[0,2.008],"range":[1.0472,7.3304]}},"theta2":{"field":"v1"}}},

{"data":{"name":"klein"},"transform":[{"stack":"value","groupby":[],"sort":[{"field":"ord","order":"ascending"}],"as":["v0","v1"]},{"filter":"datum.ord == 4"}],
 "mark":{"type":"arc","outerRadius":80.5,"stroke":null,"fill":"#555"},
 "encoding":{"x":{"datum":603.5,"type":"quantitative","scale":{"domain":[0,940]},"axis":null},"y":{"datum":255.5,"type":"quantitative","scale":{"domain":[563,0]},"axis":null},
  "theta":{"field":"v0","type":"quantitative","scale":{"domain":[0,2.008],"range":[1.0472,7.3304]}},"theta2":{"field":"v1"}}},

{"data":{"name":"klein"},"transform":[{"stack":"value","groupby":[],"sort":[{"field":"ord","order":"ascending"}],"as":["v0","v1"]}],
 "mark":{"type":"arc","outerRadius":80,"fill":"transparent","stroke":"#000","strokeWidth":1.2},
 "encoding":{"x":{"datum":603.5,"type":"quantitative","scale":{"domain":[0,940]},"axis":null},"y":{"datum":255.5,"type":"quantitative","scale":{"domain":[563,0]},"axis":null},
  "theta":{"field":"v0","type":"quantitative","scale":{"domain":[0,2.008],"range":[1.0472,7.3304]}},"theta2":{"field":"v1"}}},

{"mark":{"type":"rule","stroke":"#000","strokeWidth":1,"strokeDash":[7,5]},"encoding":{"x":{"datum":430,"type":"quantitative","scale":{"domain":[0,940]},"axis":null},"y":{"datum":246,"type":"quantitative","scale":{"domain":[563,0]},"axis":null},"x2":{"datum":558},"y2":{"datum":188}}},
{"mark":{"type":"rule","stroke":"#000","strokeWidth":1,"strokeDash":[7,5]},"encoding":{"x":{"datum":430,"type":"quantitative","scale":{"domain":[0,940]},"axis":null},"y":{"datum":266,"type":"quantitative","scale":{"domain":[563,0]},"axis":null},"x2":{"datum":575},"y2":{"datum":329}}},

{"mark":{"type":"rule","stroke":"#000","strokeWidth":1},"encoding":{"x":{"datum":498,"type":"quantitative","scale":{"domain":[0,940]},"axis":null},"y":{"datum":165,"type":"quantitative","scale":{"domain":[563,0]},"axis":null},"x2":{"datum":498},"y2":{"datum":174}}},
{"mark":{"type":"rule","stroke":"#000","strokeWidth":1},"encoding":{"x":{"datum":498,"type":"quantitative","scale":{"domain":[0,940]},"axis":null},"y":{"datum":174,"type":"quantitative","scale":{"domain":[563,0]},"axis":null},"x2":{"datum":428},"y2":{"datum":255}}},
{"mark":{"type":"rule","stroke":"#000","strokeWidth":1},"encoding":{"x":{"datum":767,"type":"quantitative","scale":{"domain":[0,940]},"axis":null},"y":{"datum":187,"type":"quantitative","scale":{"domain":[563,0]},"axis":null},"x2":{"datum":767},"y2":{"datum":191}}},
{"mark":{"type":"rule","stroke":"#000","strokeWidth":1},"encoding":{"x":{"datum":767,"type":"quantitative","scale":{"domain":[0,940]},"axis":null},"y":{"datum":191,"type":"quantitative","scale":{"domain":[563,0]},"axis":null},"x2":{"datum":683},"y2":{"datum":237}}},
{"mark":{"type":"rule","stroke":"#000","strokeWidth":1},"encoding":{"x":{"datum":755,"type":"quantitative","scale":{"domain":[0,940]},"axis":null},"y":{"datum":268,"type":"quantitative","scale":{"domain":[563,0]},"axis":null},"x2":{"datum":683},"y2":{"datum":268}}},
{"mark":{"type":"rule","stroke":"#000","strokeWidth":1},"encoding":{"x":{"datum":705,"type":"quantitative","scale":{"domain":[0,940]},"axis":null},"y":{"datum":353,"type":"quantitative","scale":{"domain":[563,0]},"axis":null},"x2":{"datum":700},"y2":{"datum":353}}},
{"mark":{"type":"rule","stroke":"#000","strokeWidth":1},"encoding":{"x":{"datum":700,"type":"quantitative","scale":{"domain":[0,940]},"axis":null},"y":{"datum":353,"type":"quantitative","scale":{"domain":[563,0]},"axis":null},"x2":{"datum":668},"y2":{"datum":304}}},
{"mark":{"type":"rule","stroke":"#000","strokeWidth":1},"encoding":{"x":{"datum":718,"type":"quantitative","scale":{"domain":[0,940]},"axis":null},"y":{"datum":462,"type":"quantitative","scale":{"domain":[563,0]},"axis":null},"x2":{"datum":714},"y2":{"datum":462}}},
{"mark":{"type":"rule","stroke":"#000","strokeWidth":1},"encoding":{"x":{"datum":714,"type":"quantitative","scale":{"domain":[0,940]},"axis":null},"y":{"datum":462,"type":"quantitative","scale":{"domain":[563,0]},"axis":null},"x2":{"datum":641},"y2":{"datum":326}}},
{"mark":{"type":"rule","stroke":"#000","strokeWidth":1},"encoding":{"x":{"datum":357,"type":"quantitative","scale":{"domain":[0,940]},"axis":null},"y":{"datum":443,"type":"quantitative","scale":{"domain":[563,0]},"axis":null},"x2":{"datum":357},"y2":{"datum":434}}},
{"mark":{"type":"rule","stroke":"#000","strokeWidth":1},"encoding":{"x":{"datum":357,"type":"quantitative","scale":{"domain":[0,940]},"axis":null},"y":{"datum":434,"type":"quantitative","scale":{"domain":[563,0]},"axis":null},"x2":{"datum":294},"y2":{"datum":413}}},

{"mark":{"type":"rect","fill":"#fff","stroke":"#000","strokeWidth":1.5},
 "encoding":{"x":{"datum":22.5,"type":"quantitative","scale":{"domain":[0,940]},"axis":null},"x2":{"datum":226},"y":{"datum":496,"type":"quantitative","scale":{"domain":[563,0]},"axis":null},"y2":{"datum":528.5}}},

{"data":{"name":"gross"},"transform":[{"filter":"datum.ord == 1"}],
 "mark":{"type":"text","font":"Liberation Sans","fontSize":18.5,"fontWeight":"bold","align":"center","baseline":"alphabetic","lineBreak":"\n","lineHeight":26,"fill":"#000"},
 "encoding":{"x":{"datum":137,"type":"quantitative","scale":{"domain":[0,940]},"axis":null},"y":{"datum":86,"type":"quantitative","scale":{"domain":[563,0]},"axis":null},"text":{"field":"label"}}},
{"data":{"name":"gross"},"transform":[{"filter":"datum.ord == 2"}],
 "mark":{"type":"text","font":"Liberation Sans","fontSize":18.5,"fontWeight":"bold","align":"center","baseline":"alphabetic","lineBreak":"\n","lineHeight":24.5,"fill":"#000"},
 "encoding":{"x":{"datum":497.5,"type":"quantitative","scale":{"domain":[0,940]},"axis":null},"y":{"datum":105,"type":"quantitative","scale":{"domain":[563,0]},"axis":null},"text":{"field":"label"}}},
{"data":{"name":"gross"},"transform":[{"filter":"datum.ord == 3"}],
 "mark":{"type":"text","font":"Liberation Sans","fontSize":18.5,"fontWeight":"bold","align":"center","baseline":"alphabetic","lineBreak":"\n","lineHeight":24,"fill":"#000"},
 "encoding":{"x":{"datum":357,"type":"quantitative","scale":{"domain":[0,940]},"axis":null},"y":{"datum":466,"type":"quantitative","scale":{"domain":[563,0]},"axis":null},"text":{"field":"label"}}},
{"data":{"name":"klein"},"transform":[{"filter":"datum.ord == 1"}],
 "mark":{"type":"text","font":"Liberation Sans","fontSize":18.5,"align":"center","baseline":"alphabetic","lineBreak":"\n","lineHeight":23,"fill":"#000"},
 "encoding":{"x":{"datum":766.5,"type":"quantitative","scale":{"domain":[0,940]},"axis":null},"y":{"datum":128,"type":"quantitative","scale":{"domain":[563,0]},"axis":null},"text":{"field":"label"}}},
{"data":{"name":"klein"},"transform":[{"filter":"datum.ord == 2"}],
 "mark":{"type":"text","font":"Liberation Sans","fontSize":18.5,"align":"center","baseline":"alphabetic","lineBreak":"\n","lineHeight":24,"fill":"#000"},
 "encoding":{"x":{"datum":795.5,"type":"quantitative","scale":{"domain":[0,940]},"axis":null},"y":{"datum":263,"type":"quantitative","scale":{"domain":[563,0]},"axis":null},"text":{"field":"label"}}},
{"data":{"name":"klein"},"transform":[{"filter":"datum.ord == 3"}],
 "mark":{"type":"text","font":"Liberation Sans","fontSize":18.5,"align":"center","baseline":"alphabetic","lineBreak":"\n","lineHeight":23.5,"fill":"#000"},
 "encoding":{"x":{"datum":788,"type":"quantitative","scale":{"domain":[0,940]},"axis":null},"y":{"datum":335,"type":"quantitative","scale":{"domain":[563,0]},"axis":null},"text":{"field":"label"}}},
{"data":{"name":"klein"},"transform":[{"filter":"datum.ord == 4"}],
 "mark":{"type":"text","font":"Liberation Sans","fontSize":18.5,"align":"center","baseline":"alphabetic","lineBreak":"\n","lineHeight":23,"fill":"#000"},
 "encoding":{"x":{"datum":753,"type":"quantitative","scale":{"domain":[0,940]},"axis":null},"y":{"datum":455,"type":"quantitative","scale":{"domain":[563,0]},"axis":null},"text":{"field":"label"}}},
{"data":{"name":"klein"},"transform":[{"filter":"datum.ord == 5"}],
 "mark":{"type":"text","font":"Liberation Sans","fontSize":18.5,"align":"center","baseline":"alphabetic","lineBreak":"\n","lineHeight":24,"fill":"#000"},
 "encoding":{"x":{"datum":501,"type":"quantitative","scale":{"domain":[0,940]},"axis":null},"y":{"datum":379.5,"type":"quantitative","scale":{"domain":[563,0]},"axis":null},"text":{"field":"label"}}},

{"mark":{"type":"text","font":"Liberation Sans","fontSize":24,"fontWeight":"bold","align":"center","baseline":"alphabetic","fill":"#000"},
 "encoding":{"x":{"datum":124,"type":"quantitative","scale":{"domain":[0,940]},"axis":null},"y":{"datum":521,"type":"quantitative","scale":{"domain":[563,0]},"axis":null},"text":{"field":"label"}}},
{"data":{"name":"quelle"},
 "mark":{"type":"text","font":"Liberation Sans","fontSize":14,"align":"left","baseline":"alphabetic","fill":"#000"},
 "encoding":{"x":{"datum":507,"type":"quantitative","scale":{"domain":[0,940]},"axis":null},"y":{"datum":563.5,"type":"quantitative","scale":{"domain":[563,0]},"axis":null},"text":{"field":"label"}}}
]
}
